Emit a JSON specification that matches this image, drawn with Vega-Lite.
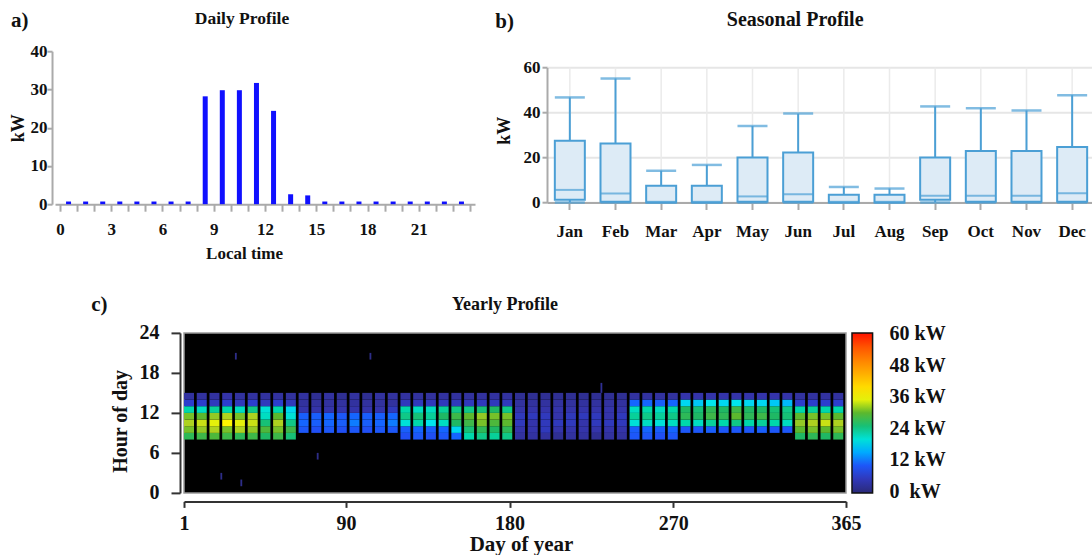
{
"$schema": "https://vega.github.io/schema/vega-lite/v6.json",
"background": "white",
"padding": {"left": 9, "top": 9.2, "right": 0, "bottom": 0},
"config": {
  "font": "Liberation Serif",
  "view": {"stroke": null},
  "axis": {"labelFont": "Liberation Serif", "titleFont": "Liberation Serif", "labelFontWeight": "bold", "titleFontWeight": "bold", "labelColor": "#111", "titleColor": "#111"},
  "title": {"font": "Liberation Serif", "fontWeight": "bold", "color": "#111"},
  "legend": {"labelFont": "Liberation Serif", "labelFontWeight": "bold", "labelColor": "#111"}
},
"datasets": {
  "daily": [
    {"hour":0.5,"kW":0.7},{"hour":1.5,"kW":0.7},{"hour":2.5,"kW":0.7},{"hour":3.5,"kW":0.7},{"hour":4.5,"kW":0.7},{"hour":5.5,"kW":0.7},{"hour":6.5,"kW":0.7},{"hour":7.5,"kW":0.7},
    {"hour":8.5,"kW":28.2},{"hour":9.5,"kW":29.8},{"hour":10.5,"kW":29.8},{"hour":11.5,"kW":31.7},{"hour":12.5,"kW":24.4},{"hour":13.5,"kW":2.6},{"hour":14.5,"kW":2.3},
    {"hour":15.5,"kW":0.7},{"hour":16.5,"kW":0.7},{"hour":17.5,"kW":0.7},{"hour":18.5,"kW":0.7},{"hour":19.5,"kW":0.7},{"hour":20.5,"kW":0.7},{"hour":21.5,"kW":0.7},{"hour":22.5,"kW":0.7},{"hour":23.5,"kW":0.7}
  ],
  "season": [
    {"m":"Jan","min":0,"q1":1.2,"med":5.6,"q3":27.4,"max":46.7},
    {"m":"Feb","min":0,"q1":0.3,"med":4.0,"q3":26.2,"max":55.1},
    {"m":"Mar","min":0,"q1":0,"med":0.3,"q3":7.4,"max":14.1},
    {"m":"Apr","min":0,"q1":0,"med":0.3,"q3":7.4,"max":16.7},
    {"m":"May","min":0,"q1":0.3,"med":2.7,"q3":20.0,"max":34.0},
    {"m":"Jun","min":0,"q1":0.3,"med":3.7,"q3":22.2,"max":39.5},
    {"m":"Jul","min":0,"q1":0,"med":0.3,"q3":3.4,"max":6.9},
    {"m":"Aug","min":0,"q1":0,"med":0.3,"q3":3.4,"max":6.2},
    {"m":"Sep","min":0,"q1":1.2,"med":3.0,"q3":20.0,"max":42.7},
    {"m":"Oct","min":0,"q1":0.3,"med":3.0,"q3":22.9,"max":41.9},
    {"m":"Nov","min":0,"q1":0.3,"med":3.0,"q3":22.9,"max":40.9},
    {"m":"Dec","min":0,"q1":0.3,"med":4.1,"q3":24.7,"max":47.7}
  ],
  "heat": [
{"s":1,"e":6.5,"h":8,"k":9,"v":27},{"s":1,"e":6.5,"h":9,"k":10,"v":31},{"s":1,"e":6.5,"h":10,"k":11,"v":33},{"s":1,"e":6.5,"h":11,"k":12,"v":31},{"s":1,"e":6.5,"h":12,"k":13,"v":22},{"s":1,"e":6.5,"h":13,"k":14,"v":6},{"s":1,"e":6.5,"h":14,"k":15,"v":3},
{"s":8,"e":13.5,"h":8,"k":9,"v":28},{"s":8,"e":13.5,"h":9,"k":10,"v":32},{"s":8,"e":13.5,"h":10,"k":11,"v":34},{"s":8,"e":13.5,"h":11,"k":12,"v":30},{"s":8,"e":13.5,"h":12,"k":13,"v":21},{"s":8,"e":13.5,"h":13,"k":14,"v":6},{"s":8,"e":13.5,"h":14,"k":15,"v":3},
{"s":15,"e":20.5,"h":8,"k":9,"v":29},{"s":15,"e":20.5,"h":9,"k":10,"v":33},{"s":15,"e":20.5,"h":10,"k":11,"v":35},{"s":15,"e":20.5,"h":11,"k":12,"v":32},{"s":15,"e":20.5,"h":12,"k":13,"v":23},{"s":15,"e":20.5,"h":13,"k":14,"v":5},{"s":15,"e":20.5,"h":14,"k":15,"v":3},
{"s":22,"e":27.5,"h":8,"k":9,"v":28},{"s":22,"e":27.5,"h":9,"k":10,"v":31},{"s":22,"e":27.5,"h":10,"k":11,"v":37},{"s":22,"e":27.5,"h":11,"k":12,"v":33},{"s":22,"e":27.5,"h":12,"k":13,"v":22},{"s":22,"e":27.5,"h":13,"k":14,"v":6},{"s":22,"e":27.5,"h":14,"k":15,"v":4},
{"s":29,"e":34.5,"h":8,"k":9,"v":27},{"s":29,"e":34.5,"h":9,"k":10,"v":33},{"s":29,"e":34.5,"h":10,"k":11,"v":35},{"s":29,"e":34.5,"h":11,"k":12,"v":31},{"s":29,"e":34.5,"h":12,"k":13,"v":21},{"s":29,"e":34.5,"h":13,"k":14,"v":5},{"s":29,"e":34.5,"h":14,"k":15,"v":3},
{"s":36,"e":41.5,"h":8,"k":9,"v":28},{"s":36,"e":41.5,"h":9,"k":10,"v":32},{"s":36,"e":41.5,"h":10,"k":11,"v":34},{"s":36,"e":41.5,"h":11,"k":12,"v":33},{"s":36,"e":41.5,"h":12,"k":13,"v":24},{"s":36,"e":41.5,"h":13,"k":14,"v":6},{"s":36,"e":41.5,"h":14,"k":15,"v":3},
{"s":43,"e":48.5,"h":8,"k":9,"v":26},{"s":43,"e":48.5,"h":9,"k":10,"v":29},{"s":43,"e":48.5,"h":10,"k":11,"v":25},{"s":43,"e":48.5,"h":11,"k":12,"v":21},{"s":43,"e":48.5,"h":12,"k":13,"v":20},{"s":43,"e":48.5,"h":13,"k":14,"v":5},{"s":43,"e":48.5,"h":14,"k":15,"v":3},
{"s":50,"e":55.5,"h":8,"k":9,"v":28},{"s":50,"e":55.5,"h":9,"k":10,"v":31},{"s":50,"e":55.5,"h":10,"k":11,"v":33},{"s":50,"e":55.5,"h":11,"k":12,"v":30},{"s":50,"e":55.5,"h":12,"k":13,"v":22},{"s":50,"e":55.5,"h":13,"k":14,"v":6},{"s":50,"e":55.5,"h":14,"k":15,"v":3},
{"s":57,"e":62.5,"h":8,"k":9,"v":25},{"s":57,"e":62.5,"h":9,"k":10,"v":28},{"s":57,"e":62.5,"h":10,"k":11,"v":24},{"s":57,"e":62.5,"h":11,"k":12,"v":20},{"s":57,"e":62.5,"h":12,"k":13,"v":18},{"s":57,"e":62.5,"h":13,"k":14,"v":5},{"s":57,"e":62.5,"h":14,"k":15,"v":3},
{"s":64,"e":69.5,"h":9,"k":10,"v":10},{"s":64,"e":69.5,"h":10,"k":11,"v":12},{"s":64,"e":69.5,"h":11,"k":12,"v":11},{"s":64,"e":69.5,"h":12,"k":13,"v":4},{"s":64,"e":69.5,"h":13,"k":14,"v":3},{"s":64,"e":69.5,"h":14,"k":15,"v":3},
{"s":71,"e":76.5,"h":9,"k":10,"v":9},{"s":71,"e":76.5,"h":10,"k":11,"v":11},{"s":71,"e":76.5,"h":11,"k":12,"v":11},{"s":71,"e":76.5,"h":12,"k":13,"v":4},{"s":71,"e":76.5,"h":13,"k":14,"v":3},{"s":71,"e":76.5,"h":14,"k":15,"v":2},
{"s":78,"e":83.5,"h":9,"k":10,"v":10},{"s":78,"e":83.5,"h":10,"k":11,"v":12},{"s":78,"e":83.5,"h":11,"k":12,"v":12},{"s":78,"e":83.5,"h":12,"k":13,"v":4},{"s":78,"e":83.5,"h":13,"k":14,"v":3},{"s":78,"e":83.5,"h":14,"k":15,"v":3},
{"s":85,"e":90.5,"h":9,"k":10,"v":9},{"s":85,"e":90.5,"h":10,"k":11,"v":11},{"s":85,"e":90.5,"h":11,"k":12,"v":10},{"s":85,"e":90.5,"h":12,"k":13,"v":4},{"s":85,"e":90.5,"h":13,"k":14,"v":3},{"s":85,"e":90.5,"h":14,"k":15,"v":2},
{"s":92,"e":97.5,"h":9,"k":10,"v":10},{"s":92,"e":97.5,"h":10,"k":11,"v":13},{"s":92,"e":97.5,"h":11,"k":12,"v":12},{"s":92,"e":97.5,"h":12,"k":13,"v":4},{"s":92,"e":97.5,"h":13,"k":14,"v":3},{"s":92,"e":97.5,"h":14,"k":15,"v":3},
{"s":99,"e":104.5,"h":9,"k":10,"v":9},{"s":99,"e":104.5,"h":10,"k":11,"v":11},{"s":99,"e":104.5,"h":11,"k":12,"v":11},{"s":99,"e":104.5,"h":12,"k":13,"v":4},{"s":99,"e":104.5,"h":13,"k":14,"v":3},{"s":99,"e":104.5,"h":14,"k":15,"v":2},
{"s":106,"e":111.5,"h":9,"k":10,"v":10},{"s":106,"e":111.5,"h":10,"k":11,"v":12},{"s":106,"e":111.5,"h":11,"k":12,"v":11},{"s":106,"e":111.5,"h":12,"k":13,"v":4},{"s":106,"e":111.5,"h":13,"k":14,"v":3},{"s":106,"e":111.5,"h":14,"k":15,"v":3},
{"s":113,"e":118.5,"h":9,"k":10,"v":10},{"s":113,"e":118.5,"h":10,"k":11,"v":13},{"s":113,"e":118.5,"h":11,"k":12,"v":12},{"s":113,"e":118.5,"h":12,"k":13,"v":5},{"s":113,"e":118.5,"h":13,"k":14,"v":3},{"s":113,"e":118.5,"h":14,"k":15,"v":3},
{"s":120,"e":125.5,"h":8,"k":9,"v":9},{"s":120,"e":125.5,"h":9,"k":10,"v":11},{"s":120,"e":125.5,"h":10,"k":11,"v":20},{"s":120,"e":125.5,"h":11,"k":12,"v":24},{"s":120,"e":125.5,"h":12,"k":13,"v":22},{"s":120,"e":125.5,"h":13,"k":14,"v":5},{"s":120,"e":125.5,"h":14,"k":15,"v":3},
{"s":127,"e":132.5,"h":8,"k":9,"v":10},{"s":127,"e":132.5,"h":9,"k":10,"v":12},{"s":127,"e":132.5,"h":10,"k":11,"v":22},{"s":127,"e":132.5,"h":11,"k":12,"v":25},{"s":127,"e":132.5,"h":12,"k":13,"v":21},{"s":127,"e":132.5,"h":13,"k":14,"v":5},{"s":127,"e":132.5,"h":14,"k":15,"v":3},
{"s":134,"e":139.5,"h":8,"k":9,"v":9},{"s":134,"e":139.5,"h":9,"k":10,"v":11},{"s":134,"e":139.5,"h":10,"k":11,"v":19},{"s":134,"e":139.5,"h":11,"k":12,"v":23},{"s":134,"e":139.5,"h":12,"k":13,"v":21},{"s":134,"e":139.5,"h":13,"k":14,"v":5},{"s":134,"e":139.5,"h":14,"k":15,"v":3},
{"s":141,"e":146.5,"h":8,"k":9,"v":10},{"s":141,"e":146.5,"h":9,"k":10,"v":12},{"s":141,"e":146.5,"h":10,"k":11,"v":21},{"s":141,"e":146.5,"h":11,"k":12,"v":26},{"s":141,"e":146.5,"h":12,"k":13,"v":23},{"s":141,"e":146.5,"h":13,"k":14,"v":5},{"s":141,"e":146.5,"h":14,"k":15,"v":3},
{"s":148,"e":153.5,"h":8,"k":9,"v":12},{"s":148,"e":153.5,"h":9,"k":10,"v":18},{"s":148,"e":153.5,"h":10,"k":11,"v":26},{"s":148,"e":153.5,"h":11,"k":12,"v":28},{"s":148,"e":153.5,"h":12,"k":13,"v":24},{"s":148,"e":153.5,"h":13,"k":14,"v":5},{"s":148,"e":153.5,"h":14,"k":15,"v":3},
{"s":155,"e":160.5,"h":8,"k":9,"v":22},{"s":155,"e":160.5,"h":9,"k":10,"v":25},{"s":155,"e":160.5,"h":10,"k":11,"v":28},{"s":155,"e":160.5,"h":11,"k":12,"v":30},{"s":155,"e":160.5,"h":12,"k":13,"v":24},{"s":155,"e":160.5,"h":13,"k":14,"v":5},{"s":155,"e":160.5,"h":14,"k":15,"v":3},
{"s":162,"e":167.5,"h":8,"k":9,"v":24},{"s":162,"e":167.5,"h":9,"k":10,"v":27},{"s":162,"e":167.5,"h":10,"k":11,"v":31},{"s":162,"e":167.5,"h":11,"k":12,"v":32},{"s":162,"e":167.5,"h":12,"k":13,"v":25},{"s":162,"e":167.5,"h":13,"k":14,"v":5},{"s":162,"e":167.5,"h":14,"k":15,"v":3},
{"s":169,"e":174.5,"h":8,"k":9,"v":23},{"s":169,"e":174.5,"h":9,"k":10,"v":26},{"s":169,"e":174.5,"h":10,"k":11,"v":29},{"s":169,"e":174.5,"h":11,"k":12,"v":31},{"s":169,"e":174.5,"h":12,"k":13,"v":26},{"s":169,"e":174.5,"h":13,"k":14,"v":5},{"s":169,"e":174.5,"h":14,"k":15,"v":3},
{"s":176,"e":181.5,"h":8,"k":9,"v":24},{"s":176,"e":181.5,"h":9,"k":10,"v":27},{"s":176,"e":181.5,"h":10,"k":11,"v":30},{"s":176,"e":181.5,"h":11,"k":12,"v":31},{"s":176,"e":181.5,"h":12,"k":13,"v":24},{"s":176,"e":181.5,"h":13,"k":14,"v":5},{"s":176,"e":181.5,"h":14,"k":15,"v":3},
{"s":183,"e":188.5,"h":8,"k":9,"v":3},{"s":183,"e":188.5,"h":9,"k":10,"v":4},{"s":183,"e":188.5,"h":10,"k":11,"v":5},{"s":183,"e":188.5,"h":11,"k":12,"v":5},{"s":183,"e":188.5,"h":12,"k":13,"v":4},{"s":183,"e":188.5,"h":13,"k":14,"v":3},{"s":183,"e":188.5,"h":14,"k":15,"v":2},
{"s":190,"e":195.5,"h":8,"k":9,"v":3},{"s":190,"e":195.5,"h":9,"k":10,"v":4},{"s":190,"e":195.5,"h":10,"k":11,"v":4},{"s":190,"e":195.5,"h":11,"k":12,"v":5},{"s":190,"e":195.5,"h":12,"k":13,"v":4},{"s":190,"e":195.5,"h":13,"k":14,"v":3},{"s":190,"e":195.5,"h":14,"k":15,"v":2},
{"s":197,"e":202.5,"h":8,"k":9,"v":3},{"s":197,"e":202.5,"h":9,"k":10,"v":5},{"s":197,"e":202.5,"h":10,"k":11,"v":5},{"s":197,"e":202.5,"h":11,"k":12,"v":5},{"s":197,"e":202.5,"h":12,"k":13,"v":4},{"s":197,"e":202.5,"h":13,"k":14,"v":3},{"s":197,"e":202.5,"h":14,"k":15,"v":2},
{"s":204,"e":209.5,"h":8,"k":9,"v":2},{"s":204,"e":209.5,"h":9,"k":10,"v":4},{"s":204,"e":209.5,"h":10,"k":11,"v":5},{"s":204,"e":209.5,"h":11,"k":12,"v":4},{"s":204,"e":209.5,"h":12,"k":13,"v":4},{"s":204,"e":209.5,"h":13,"k":14,"v":3},{"s":204,"e":209.5,"h":14,"k":15,"v":2},
{"s":211,"e":216.5,"h":8,"k":9,"v":3},{"s":211,"e":216.5,"h":9,"k":10,"v":4},{"s":211,"e":216.5,"h":10,"k":11,"v":5},{"s":211,"e":216.5,"h":11,"k":12,"v":5},{"s":211,"e":216.5,"h":12,"k":13,"v":4},{"s":211,"e":216.5,"h":13,"k":14,"v":3},{"s":211,"e":216.5,"h":14,"k":15,"v":2},
{"s":218,"e":223.5,"h":8,"k":9,"v":3},{"s":218,"e":223.5,"h":9,"k":10,"v":4},{"s":218,"e":223.5,"h":10,"k":11,"v":4},{"s":218,"e":223.5,"h":11,"k":12,"v":5},{"s":218,"e":223.5,"h":12,"k":13,"v":4},{"s":218,"e":223.5,"h":13,"k":14,"v":3},{"s":218,"e":223.5,"h":14,"k":15,"v":2},
{"s":225,"e":230.5,"h":8,"k":9,"v":2},{"s":225,"e":230.5,"h":9,"k":10,"v":4},{"s":225,"e":230.5,"h":10,"k":11,"v":5},{"s":225,"e":230.5,"h":11,"k":12,"v":5},{"s":225,"e":230.5,"h":12,"k":13,"v":4},{"s":225,"e":230.5,"h":13,"k":14,"v":3},{"s":225,"e":230.5,"h":14,"k":15,"v":2},
{"s":232,"e":237.5,"h":8,"k":9,"v":3},{"s":232,"e":237.5,"h":9,"k":10,"v":4},{"s":232,"e":237.5,"h":10,"k":11,"v":5},{"s":232,"e":237.5,"h":11,"k":12,"v":4},{"s":232,"e":237.5,"h":12,"k":13,"v":4},{"s":232,"e":237.5,"h":13,"k":14,"v":3},{"s":232,"e":237.5,"h":14,"k":15,"v":2},
{"s":239,"e":244.5,"h":8,"k":9,"v":3},{"s":239,"e":244.5,"h":9,"k":10,"v":4},{"s":239,"e":244.5,"h":10,"k":11,"v":5},{"s":239,"e":244.5,"h":11,"k":12,"v":5},{"s":239,"e":244.5,"h":12,"k":13,"v":4},{"s":239,"e":244.5,"h":13,"k":14,"v":3},{"s":239,"e":244.5,"h":14,"k":15,"v":2},
{"s":246,"e":251.5,"h":8,"k":9,"v":10},{"s":246,"e":251.5,"h":9,"k":10,"v":11},{"s":246,"e":251.5,"h":10,"k":11,"v":20},{"s":246,"e":251.5,"h":11,"k":12,"v":23},{"s":246,"e":251.5,"h":12,"k":13,"v":21},{"s":246,"e":251.5,"h":13,"k":14,"v":12},{"s":246,"e":251.5,"h":14,"k":15,"v":3},
{"s":253,"e":258.5,"h":8,"k":9,"v":10},{"s":253,"e":258.5,"h":9,"k":10,"v":12},{"s":253,"e":258.5,"h":10,"k":11,"v":21},{"s":253,"e":258.5,"h":11,"k":12,"v":24},{"s":253,"e":258.5,"h":12,"k":13,"v":22},{"s":253,"e":258.5,"h":13,"k":14,"v":12},{"s":253,"e":258.5,"h":14,"k":15,"v":3},
{"s":260,"e":265.5,"h":8,"k":9,"v":9},{"s":260,"e":265.5,"h":9,"k":10,"v":11},{"s":260,"e":265.5,"h":10,"k":11,"v":20},{"s":260,"e":265.5,"h":11,"k":12,"v":23},{"s":260,"e":265.5,"h":12,"k":13,"v":21},{"s":260,"e":265.5,"h":13,"k":14,"v":11},{"s":260,"e":265.5,"h":14,"k":15,"v":3},
{"s":267,"e":272.5,"h":8,"k":9,"v":10},{"s":267,"e":272.5,"h":9,"k":10,"v":12},{"s":267,"e":272.5,"h":10,"k":11,"v":21},{"s":267,"e":272.5,"h":11,"k":12,"v":24},{"s":267,"e":272.5,"h":12,"k":13,"v":22},{"s":267,"e":272.5,"h":13,"k":14,"v":12},{"s":267,"e":272.5,"h":14,"k":15,"v":3},
{"s":274,"e":279.5,"h":9,"k":10,"v":10},{"s":274,"e":279.5,"h":10,"k":11,"v":22},{"s":274,"e":279.5,"h":11,"k":12,"v":27},{"s":274,"e":279.5,"h":12,"k":13,"v":26},{"s":274,"e":279.5,"h":13,"k":14,"v":18},{"s":274,"e":279.5,"h":14,"k":15,"v":4},
{"s":281,"e":286.5,"h":9,"k":10,"v":10},{"s":281,"e":286.5,"h":10,"k":11,"v":21},{"s":281,"e":286.5,"h":11,"k":12,"v":26},{"s":281,"e":286.5,"h":12,"k":13,"v":25},{"s":281,"e":286.5,"h":13,"k":14,"v":17},{"s":281,"e":286.5,"h":14,"k":15,"v":4},
{"s":288,"e":293.5,"h":9,"k":10,"v":11},{"s":288,"e":293.5,"h":10,"k":11,"v":23},{"s":288,"e":293.5,"h":11,"k":12,"v":28},{"s":288,"e":293.5,"h":12,"k":13,"v":27},{"s":288,"e":293.5,"h":13,"k":14,"v":19},{"s":288,"e":293.5,"h":14,"k":15,"v":4},
{"s":295,"e":300.5,"h":9,"k":10,"v":10},{"s":295,"e":300.5,"h":10,"k":11,"v":22},{"s":295,"e":300.5,"h":11,"k":12,"v":27},{"s":295,"e":300.5,"h":12,"k":13,"v":26},{"s":295,"e":300.5,"h":13,"k":14,"v":18},{"s":295,"e":300.5,"h":14,"k":15,"v":4},
{"s":302,"e":307.5,"h":9,"k":10,"v":10},{"s":302,"e":307.5,"h":10,"k":11,"v":24},{"s":302,"e":307.5,"h":11,"k":12,"v":30},{"s":302,"e":307.5,"h":12,"k":13,"v":28},{"s":302,"e":307.5,"h":13,"k":14,"v":19},{"s":302,"e":307.5,"h":14,"k":15,"v":4},
{"s":309,"e":314.5,"h":9,"k":10,"v":10},{"s":309,"e":314.5,"h":10,"k":11,"v":22},{"s":309,"e":314.5,"h":11,"k":12,"v":27},{"s":309,"e":314.5,"h":12,"k":13,"v":26},{"s":309,"e":314.5,"h":13,"k":14,"v":18},{"s":309,"e":314.5,"h":14,"k":15,"v":4},
{"s":316,"e":321.5,"h":9,"k":10,"v":11},{"s":316,"e":321.5,"h":10,"k":11,"v":23},{"s":316,"e":321.5,"h":11,"k":12,"v":28},{"s":316,"e":321.5,"h":12,"k":13,"v":26},{"s":316,"e":321.5,"h":13,"k":14,"v":18},{"s":316,"e":321.5,"h":14,"k":15,"v":4},
{"s":323,"e":328.5,"h":9,"k":10,"v":10},{"s":323,"e":328.5,"h":10,"k":11,"v":22},{"s":323,"e":328.5,"h":11,"k":12,"v":26},{"s":323,"e":328.5,"h":12,"k":13,"v":25},{"s":323,"e":328.5,"h":13,"k":14,"v":17},{"s":323,"e":328.5,"h":14,"k":15,"v":4},
{"s":330,"e":335.5,"h":9,"k":10,"v":10},{"s":330,"e":335.5,"h":10,"k":11,"v":21},{"s":330,"e":335.5,"h":11,"k":12,"v":25},{"s":330,"e":335.5,"h":12,"k":13,"v":24},{"s":330,"e":335.5,"h":13,"k":14,"v":16},{"s":330,"e":335.5,"h":14,"k":15,"v":4},
{"s":337,"e":342.5,"h":8,"k":9,"v":26},{"s":337,"e":342.5,"h":9,"k":10,"v":30},{"s":337,"e":342.5,"h":10,"k":11,"v":32},{"s":337,"e":342.5,"h":11,"k":12,"v":30},{"s":337,"e":342.5,"h":12,"k":13,"v":22},{"s":337,"e":342.5,"h":13,"k":14,"v":6},{"s":337,"e":342.5,"h":14,"k":15,"v":3},
{"s":344,"e":349.5,"h":8,"k":9,"v":27},{"s":344,"e":349.5,"h":9,"k":10,"v":31},{"s":344,"e":349.5,"h":10,"k":11,"v":33},{"s":344,"e":349.5,"h":11,"k":12,"v":31},{"s":344,"e":349.5,"h":12,"k":13,"v":23},{"s":344,"e":349.5,"h":13,"k":14,"v":6},{"s":344,"e":349.5,"h":14,"k":15,"v":3},
{"s":351,"e":356.5,"h":8,"k":9,"v":26},{"s":351,"e":356.5,"h":9,"k":10,"v":30},{"s":351,"e":356.5,"h":10,"k":11,"v":34},{"s":351,"e":356.5,"h":11,"k":12,"v":31},{"s":351,"e":356.5,"h":12,"k":13,"v":22},{"s":351,"e":356.5,"h":13,"k":14,"v":6},{"s":351,"e":356.5,"h":14,"k":15,"v":3},
{"s":358,"e":363.5,"h":8,"k":9,"v":27},{"s":358,"e":363.5,"h":9,"k":10,"v":31},{"s":358,"e":363.5,"h":10,"k":11,"v":33},{"s":358,"e":363.5,"h":11,"k":12,"v":30},{"s":358,"e":363.5,"h":12,"k":13,"v":22},{"s":358,"e":363.5,"h":13,"k":14,"v":6},{"s":358,"e":363.5,"h":14,"k":15,"v":3},
{"s":29,"e":30,"h":20,"k":21,"v":1},{"s":21,"e":22,"h":2,"k":3,"v":1},{"s":32,"e":33,"h":1,"k":2,"v":1},{"s":103,"e":104,"h":20,"k":21,"v":1},{"s":74,"e":75,"h":5,"k":6,"v":1},{"s":230,"e":231,"h":15,"k":16.5,"v":2}
  ]
},
"spacing": 32.7,
"resolve": {"legend": {"color": "independent"}, "scale": {"color": "independent"}},
"vconcat": [
  {
    "spacing": 20,
    "hconcat": [
      {
        "title": {"text": "a)", "fontSize": 21, "anchor": "start", "frame": "bounds", "baseline": "alphabetic", "offset": -38, "dx": 2},
        "vconcat": [
          {
            "title": {"text": "Daily Profile", "fontSize": 17.5, "baseline": "alphabetic", "offset": 0.2, "anchor": "middle", "frame": "bounds"},
            "width": 420,
            "height": 153,
            "data": {"name": "daily"},
            "mark": {"type": "bar", "color": "#1010ff", "width": 5},
            "encoding": {
              "x": {"field": "hour", "type": "quantitative", "scale": {"domain": [0, 24], "nice": false, "zero": false},
                "axis": {"values": [0,1,2,3,4,5,6,7,8,9,10,11,12,13,14,15,16,17,18,19,20,21,22,23,24],
                  "labelExpr": "datum.value % 3 === 0 && datum.value < 24 ? datum.label : ''",
                  "labelOverlap": false, "labelFlush": false,
                  "title": "Local time", "titleX": 189, "grid": false,
                  "domainColor": "#aaaaaa", "domainWidth": 2, "tickColor": "#aaaaaa", "tickWidth": 2, "tickSize": 7,
                  "labelPadding": 10, "labelFontSize": 17, "titleFontSize": 17, "titlePadding": 8}},
              "y": {"field": "kW", "type": "quantitative", "scale": {"domain": [0, 40], "nice": false},
                "axis": {"values": [0, 10, 20, 30, 40], "title": "kW", "grid": false, "offset": 3,
                  "domainColor": "#aaaaaa", "domainWidth": 2, "tickColor": "#aaaaaa", "tickWidth": 2, "tickSize": 5,
                  "labelPadding": 0, "labelFontSize": 17, "titleFontSize": 18, "titlePadding": 3}}
            }
          }
        ]
      },
      {
        "title": {"text": "b)", "fontSize": 21, "anchor": "start", "frame": "bounds", "baseline": "alphabetic", "offset": -39.3, "dx": 0},
        "vconcat": [
          {
            "title": {"text": "Seasonal Profile", "fontSize": 20, "baseline": "alphabetic", "offset": 5.5, "anchor": "middle", "frame": "bounds"},
            "width": 548,
            "height": 151.3,
            "data": {"name": "season"},
            "encoding": {
              "x": {"field": "m", "type": "nominal", "sort": null, "scale": {"paddingInner": 0, "paddingOuter": 0},
                "axis": {"title": null, "labelAngle": 0, "grid": false,
                  "domainColor": "#aaaaaa", "domainWidth": 2, "tickColor": "#aaaaaa", "tickWidth": 2, "tickSize": 7,
                  "labelPadding": 14, "labelFontSize": 17, "labelDx": -4}}
            },
            "layer": [
              {"mark": {"type": "rule", "color": "#ebebeb", "strokeWidth": 1.5},
               "encoding": {
                 "y": {"datum": 0, "type": "quantitative", "scale": {"domain": [0, 60], "nice": false, "range": [151.3, 16.3]},
                   "axis": {"values": [0, 20, 40, 60], "title": "kW", "titleY": 79, "grid": true, "gridColor": "#e6e6e6", "gridWidth": 2,
                     "domainColor": "#aaaaaa", "domainWidth": 2, "tickColor": "#aaaaaa", "tickWidth": 2, "tickSize": 5,
                     "labelPadding": 2, "labelFontSize": 17, "titleFontSize": 18, "titlePadding": 9.7}},
                 "y2": {"datum": 60}}},
              {"mark": {"type": "rule", "color": "#4b9fd5", "strokeWidth": 2},
               "encoding": {"y": {"field": "q3", "type": "quantitative"}, "y2": {"field": "max"}}},
              {"mark": {"type": "rule", "color": "#4b9fd5", "strokeWidth": 2},
               "encoding": {"y": {"field": "min", "type": "quantitative"}, "y2": {"field": "q1"}}},
              {"mark": {"type": "tick", "color": "#4b9fd5", "size": 30, "thickness": 2.5, "orient": "horizontal"},
               "encoding": {"y": {"field": "max", "type": "quantitative"}}},
              {"mark": {"type": "tick", "color": "#4b9fd5", "size": 30, "thickness": 2.5, "orient": "horizontal"},
               "encoding": {"y": {"field": "min", "type": "quantitative"}}},
              {"mark": {"type": "bar", "width": 30, "fill": "#ddebf6", "stroke": "#4b9fd5", "strokeWidth": 2},
               "encoding": {"y": {"field": "q1", "type": "quantitative"}, "y2": {"field": "q3"}}},
              {"mark": {"type": "tick", "color": "#4b9fd5", "size": 30, "thickness": 2, "orient": "horizontal"},
               "encoding": {"y": {"field": "med", "type": "quantitative"}}}
            ]
          }
        ]
      }
    ]
  },
  {
    "spacing": 0,
    "resolve": {"legend": {"color": "independent"}, "scale": {"color": "independent"}},
    "hconcat": [
      {"width": 36, "height": 10, "data": {"values": []}, "mark": "rect", "encoding": {}},
      {
        "title": {"text": "c)", "fontSize": 21, "anchor": "start", "frame": "bounds", "baseline": "alphabetic", "offset": -36.7, "dx": -18},
        "resolve": {"legend": {"color": "independent"}, "scale": {"color": "independent"}},
        "vconcat": [
          {
            "title": {"text": "Yearly Profile", "fontSize": 18, "baseline": "alphabetic", "offset": -5.3, "anchor": "middle", "frame": "group", "dx": -10},
            "width": 662,
            "height": 160,
            "view": {"fill": "#000000", "stroke": "#999999", "strokeWidth": 1.5},
            "data": {"name": "heat"},
            "mark": {"type": "rect", "clip": true},
            "encoding": {
              "x": {"field": "s", "type": "quantitative", "scale": {"domain": [1, 365], "nice": false, "zero": false},
                "axis": {"values": [1, 90, 180, 270, 365], "title": "Day of year", "titleX": 337, "offset": 8.5, "grid": false,
                  "domainColor": "#333333", "domainWidth": 2, "tickColor": "#333333", "tickWidth": 2, "tickSize": 6,
                  "labelPadding": 6, "labelFontSize": 20, "titleFontSize": 21, "titlePadding": 0, "labelFlush": false}},
              "x2": {"field": "e"},
              "y": {"field": "h", "type": "quantitative", "scale": {"domain": [0, 24], "nice": false, "zero": false},
                "axis": {"values": [0, 6, 12, 18, 24], "title": "Hour of day", "titleY": 88, "offset": 4, "grid": false,
                  "domainColor": "#333333", "domainWidth": 2, "tickColor": "#333333", "tickWidth": 2, "tickSize": 9,
                  "labelPadding": 12, "labelFontSize": 20, "titleFontSize": 20, "titlePadding": 9}},
              "y2": {"field": "k"},
              "color": {"field": "v", "type": "quantitative",
                "scale": {"domain": [-0.4, 4, 8, 12, 15, 19, 22, 26, 30, 33, 36, 42, 48, 54, 60.4],
                  "range": ["#2a2a78", "#3434aa", "#2448f0", "#1565ff", "#00aaff", "#00e6ee", "#00d8aa", "#1fb864", "#5cb82e", "#aed220", "#ffff00", "#ffc800", "#ff9400", "#ff6000", "#ff1200"],
                  "interpolate": "rgb"},
                "legend": {"title": null, "offset": 6, "padding": 0, "direction": "vertical", "gradientLength": 160, "gradientThickness": 20.6,
                  "gradientStrokeColor": "#111111", "gradientStrokeWidth": 1.5, "values": [0, 12, 24, 36, 48, 60],
                  "labelExpr": "datum.value === 0 ? '0\u00a0\u00a0kW' : datum.value + ' kW'",
                  "labelFontSize": 20, "labelOffset": 17, "labelBaseline": "middle", "labelOverlap": false}}
            }
          }
        ]
      }
    ]
  }
]
}
